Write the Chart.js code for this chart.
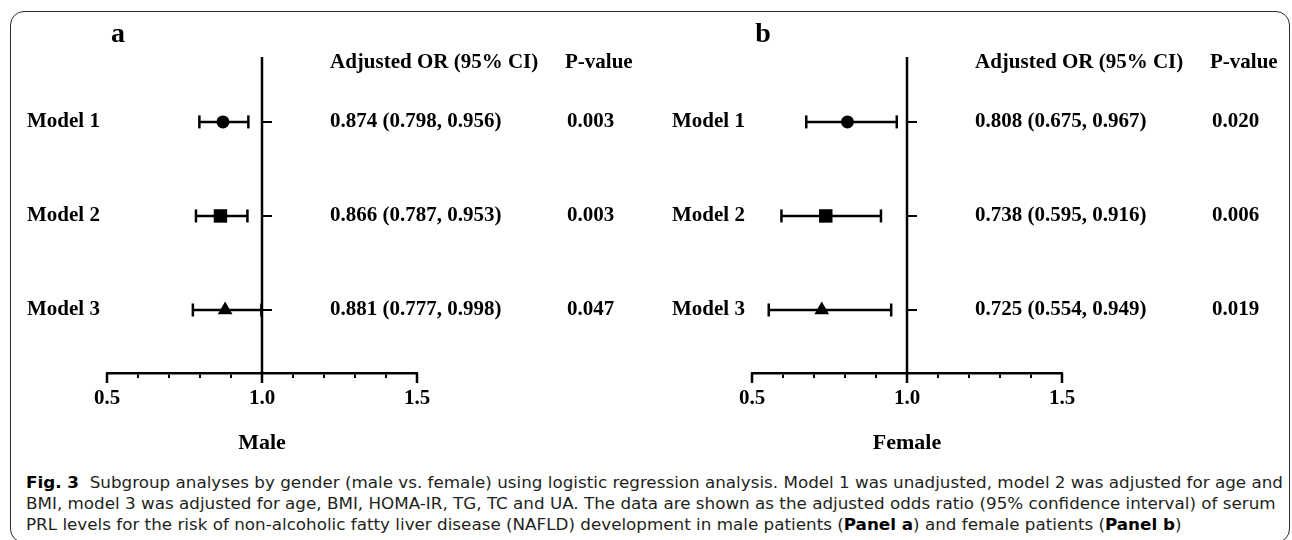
<!DOCTYPE html>
<html>
<head>
<meta charset="utf-8">
<script src="https://cdn.jsdelivr.net/npm/chart.js@4.4.0/dist/chart.umd.min.js"></script>
<style>
  html, body { margin: 0; padding: 0; background: #fff; width: 1292px; height: 540px; overflow: hidden; }
  #frame { position: absolute; left: 10px; top: 11px; width: 1278px; height: 530px; border: 1.5px solid #2b2b2b; border-radius: 14px; }
  canvas { position: absolute; top: 0; }
  #caption { position: absolute; left: 26px; top: 473px; font-family: "Liberation Sans Narrow", "DejaVu Sans Condensed", sans-serif; font-size: 15px; line-height: 21px; color: #231f20; white-space: nowrap; transform-origin: 0 0; }
  #caption b { color: #000; }
</style>
</head>
<body>
<div id="frame"></div>
<canvas id="male" width="646" height="470" style="left:0"></canvas>
<canvas id="female" width="646" height="470" style="left:645px"></canvas>
<div id="caption">
  <div><span id="cap1"><b>Fig. 3</b>&nbsp;&nbsp;Subgroup analyses by gender (male vs. female) using logistic regression analysis. Model 1 was unadjusted, model 2 was adjusted for age and</span></div>
  <div><span>BMI, model 3 was adjusted for age, BMI, HOMA-IR, TG, TC and UA. The data are shown as the adjusted odds ratio (95% confidence interval) of serum</span></div>
  <div><span>PRL levels for the risk of non-alcoholic fatty liver disease (NAFLD) development in male patients (<b>Panel a</b>) and female patients (<b>Panel b</b>)</span></div>
</div>
<script>
// data
const models = ['Model 1', 'Model 2', 'Model 3'];
const rows = [1, 2, 3];
const markers = ['circle', 'rect', 'triangle'];

const maleOR = [0.874, 0.866, 0.881];
const maleLow = [0.798, 0.787, 0.777];
const maleHigh = [0.956, 0.953, 0.998];
const maleP = ['0.003', '0.003', '0.047'];

const femaleOR = [0.808, 0.738, 0.725];
const femaleLow = [0.675, 0.595, 0.554];
const femaleHigh = [0.967, 0.916, 0.949];
const femaleP = ['0.020', '0.006', '0.019'];

const xLabels = [0.5, 1.0, 1.5];
const refLine = 1.0;

const FONT = '"Liberation Serif", "Times New Roman", serif';
const markerSize = { circle: 6.5, rect: 9.5, triangle: 8.5 };

// reference line, its row ticks, long ticks and the text columns
const panelDecor = {
    id: 'panelDecor',
    beforeDatasetsDraw(chart) {
        const { ctx, chartArea, scales: { x, y } } = chart;
        const x1 = x.getPixelForValue(refLine);
        ctx.save();
        ctx.strokeStyle = '#000';
        ctx.lineWidth = 2.5;
        ctx.beginPath();
        ctx.moveTo(x1, chartArea.top);
        ctx.lineTo(x1, chartArea.bottom + 10);
        xLabels.forEach(v => {
            const px = x.getPixelForValue(v);
            ctx.moveTo(px, chartArea.bottom);
            ctx.lineTo(px, chartArea.bottom + 10);
        });
        ctx.stroke();
        ctx.lineWidth = 2;
        ctx.beginPath();
        rows.forEach(r => {
            const py = y.getPixelForValue(r);
            ctx.moveTo(x1, py);
            ctx.lineTo(x1 + 10, py);
        });
        ctx.stroke();
        ctx.restore();
    },
    afterDraw(chart, args, opts) {
        const { ctx, scales: { y } } = chart;
        ctx.save();
        ctx.fillStyle = '#000';
        ctx.textBaseline = 'middle';
        ctx.textAlign = 'center';
        ctx.font = `bold 28px ${FONT}`;
        ctx.fillText(opts.letter, 118, 35);

        ctx.textAlign = 'left';
        ctx.font = `bold 21px ${FONT}`;
        ctx.fillText('Adjusted OR (95% CI)', opts.orX, 63);
        ctx.fillText('P-value', opts.pX, 63);
        rows.forEach((r, i) => {
            const py = y.getPixelForValue(r);
            const txt = `${opts.or[i].toFixed(3)} (${opts.low[i].toFixed(3)}, ${opts.high[i].toFixed(3)})`;
            ctx.fillText(txt, opts.orX, py);
            ctx.fillText(opts.p[i], opts.pX + 2, py);
        });
        ctx.restore();
    }
};

function forestPanel(id, letter, group, or, low, high, pvals) {
    const datasets = [{
        label: 'OR',
        data: rows.map((r, i) => ({ x: or[i], y: r })),
        showLine: false,
        pointStyle: c => markers[c.dataIndex],
        pointRadius: c => markerSize[markers[c.dataIndex]],
        pointBackgroundColor: '#000',
        pointBorderColor: '#000',
        pointBorderWidth: 0,
        order: 0
    }];
    rows.forEach((r, i) => {
        datasets.push({
            label: 'CI ' + models[i],
            data: [{ x: low[i], y: r }, { x: high[i], y: r }],
            showLine: true,
            borderColor: '#000',
            borderWidth: 2.5,
            pointStyle: 'line',
            pointRotation: 90,
            pointRadius: 6.5,
            pointBorderWidth: 2.5,
            pointBorderColor: '#000',
            order: 1
        });
    });

    return new Chart(document.getElementById(id), {
        type: 'scatter',
        data: { datasets },
        plugins: [panelDecor],
        options: {
            responsive: false,
            animation: false,
            devicePixelRatio: 1,
            events: [],
            layout: { padding: { left: 27, right: 229, top: 57, bottom: 7 } },
            plugins: {
                legend: { display: false },
                tooltip: { enabled: false },
                panelDecor: { letter, or, low, high, p: pvals, orX: 330, pX: 565 }
            },
            scales: {
                x: {
                    type: 'linear',
                    min: 0.5,
                    max: 1.5,
                    afterFit: s => { s.height = 90; },
                    ticks: {
                        stepSize: 0.1,
                        autoSkip: false,
                        maxRotation: 0,
                        padding: 8,
                        color: '#000',
                        font: { family: FONT, size: 21, weight: 'bold' },
                        callback: v => xLabels.some(t => Math.abs(t - v) < 1e-6) ? v.toFixed(1) : ''
                    },
                    grid: { drawOnChartArea: false, drawTicks: true, tickLength: 5, color: '#000', lineWidth: 2 },
                    border: { display: true, color: '#000', width: 2.5 },
                    title: { display: true, text: group, color: '#000', font: { family: FONT, size: 22, weight: 'bold' }, padding: { top: 0, bottom: 6 } }
                },
                y: {
                    type: 'linear',
                    reverse: true,
                    min: 0.31,
                    max: 3.67,
                    afterBuildTicks: s => { s.ticks = rows.map(v => ({ value: v })); },
                    afterFit: s => { s.width = 80; },
                    ticks: {
                        crossAlign: 'far',
                        padding: 0,
                        color: '#000',
                        font: { family: FONT, size: 21, weight: 'bold' },
                        callback: v => models[Math.round(v) - 1]
                    },
                    grid: { display: false, drawTicks: false },
                    border: { display: false }
                }
            }
        }
    });
}

forestPanel('male', 'a', 'Male', maleOR, maleLow, maleHigh, maleP);
forestPanel('female', 'b', 'Female', femaleOR, femaleLow, femaleHigh, femaleP);

// squeeze the caption to the width of the printed lines
const cap = document.getElementById('caption');
const w = document.getElementById('cap1').getBoundingClientRect().width;
cap.style.transform = `scaleX(${(1283 - 26) / w})`;
</script>
</body>
</html>
